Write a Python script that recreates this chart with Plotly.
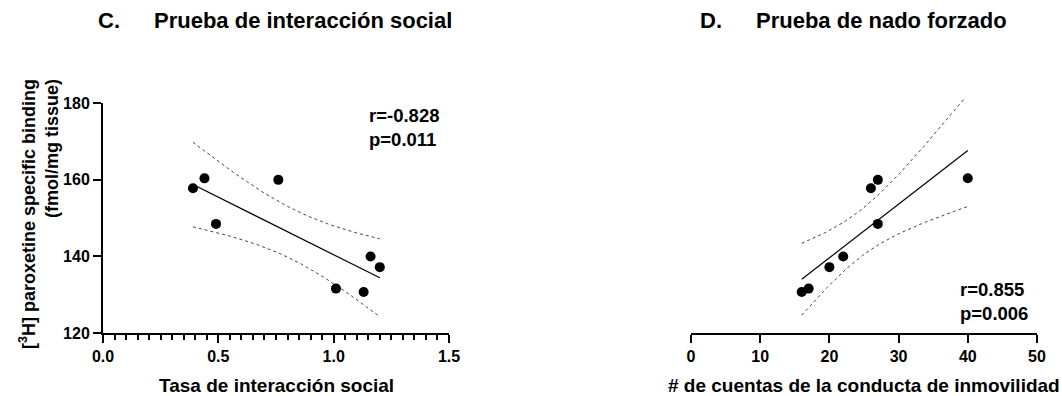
import numpy as np
import plotly.graph_objects as go

# [3H] paroxetine specific binding (fmol/mg tissue), one value per animal
binding = [157.8, 160.4, 148.5, 160.0, 131.6, 130.7, 140.0, 137.2]
# Social interaction rate for the same animals
social_rate = [0.39, 0.44, 0.49, 0.76, 1.01, 1.13, 1.16, 1.20]
# Immobility counts in the forced swim test, same animals
immobility = [26, 40, 27, 27, 17, 16, 22, 20]

# tick positions and their labels
binding_ticks = [120, 140, 160, 180]
binding_labels = ["120", "140", "160", "180"]
rate_ticks = [0.0, 0.5, 1.0, 1.5]
rate_labels = ["0.0", "0.5", "1.0", "1.5"]
count_ticks = [0, 10, 20, 30, 40, 50]
count_labels = ["0", "10", "20", "30", "40", "50"]

stats_c = ["r=-0.828", "p=0.011"]
stats_d = ["r=0.855", "p=0.006"]

T_CRIT_DF6 = 2.447  # two-sided 95 % t value, 6 degrees of freedom

W, H = 1062, 396
FONT = "Liberation Sans, Arial, sans-serif"


def fit_with_band(x, y, n_pts=80):
    x = np.asarray(x, float)
    y = np.asarray(y, float)
    n = len(x)
    slope, intercept = np.polyfit(x, y, 1)
    resid = y - (slope * x + intercept)
    s = np.sqrt(np.sum(resid ** 2) / (n - 2))
    sxx = np.sum((x - x.mean()) ** 2)
    xs = np.linspace(x.min(), x.max(), n_pts)
    ys = slope * xs + intercept
    half = T_CRIT_DF6 * s * np.sqrt(1 / n + (xs - x.mean()) ** 2 / sxx)
    return xs, ys, ys - half, ys + half


def px_x(p):
    return p / W


def px_y(p):
    return 1 - p / H


def bold(labels):
    return ["<b>%s</b>" % t for t in labels]


fig = go.Figure()

panels = [
    (social_rate, "x", "y"),
    (immobility, "x2", "y2"),
]
for xvals, xa, ya in panels:
    xs, ys, lo, hi = fit_with_band(xvals, binding)
    for band in (lo, hi):
        fig.add_trace(go.Scatter(x=xs, y=band, mode="lines", xaxis=xa, yaxis=ya,
                                 line=dict(color="#444444", width=1, dash="dot"),
                                 showlegend=False, hoverinfo="skip"))
    fig.add_trace(go.Scatter(x=xs, y=ys, mode="lines", xaxis=xa, yaxis=ya,
                             line=dict(color="black", width=1.2),
                             showlegend=False, hoverinfo="skip"))
    fig.add_trace(go.Scatter(x=xvals, y=binding, mode="markers", xaxis=xa, yaxis=ya,
                             marker=dict(color="black", size=10),
                             showlegend=False, cliponaxis=False))

tick_font = dict(family=FONT, size=16, color="black")
axis_common = dict(showline=True, linecolor="black", linewidth=2, ticks="outside",
                   ticklen=8, tickwidth=2, tickcolor="black", showgrid=False,
                   zeroline=False, tickfont=tick_font, fixedrange=True,
                   automargin=False, tickmode="array")

y_bottom, y_top = px_y(333), px_y(103.3)
# the right panel keeps the same scale but leaves room for the upper band
y2_top = px_y(103.3 - 3.833 * 1.5)

fig.update_layout(
    width=W, height=H,
    margin=dict(l=0, r=0, t=0, b=0, autoexpand=False),
    paper_bgcolor="white", plot_bgcolor="white",
    xaxis=dict(domain=[px_x(103), px_x(449)], range=[0, 1.5],
               tickvals=rate_ticks, ticktext=bold(rate_labels), anchor="y",
               minor=dict(dtick=0.05, ticks="outside", ticklen=5, tickwidth=1.5,
                          tickcolor="black"),
               **axis_common),
    yaxis=dict(domain=[y_bottom, y_top], range=[120, 180],
               tickvals=binding_ticks, ticktext=bold(binding_labels),
               anchor="x", **axis_common),
    xaxis2=dict(domain=[px_x(691), px_x(1037)], range=[0, 50],
                tickvals=count_ticks, ticktext=bold(count_labels),
                anchor="y2", **axis_common),
    yaxis2=dict(domain=[y_bottom, y2_top], range=[120, 181.5], anchor="x2",
                visible=False, fixedrange=True, automargin=False),
)

ann_font = dict(family=FONT, size=18.5, color="black")
head_font = dict(family=FONT, size=22, color="black")
annotations = [
    # panel headings
    dict(x=px_x(96), y=px_y(21), text="<b>C.</b>", xanchor="left", yanchor="middle",
         font=head_font),
    dict(x=px_x(152), y=px_y(21), text="<b>Prueba de interacción social</b>",
         xanchor="left", yanchor="middle", font=head_font),
    dict(x=px_x(698), y=px_y(21), text="<b>D.</b>", xanchor="left", yanchor="middle",
         font=head_font),
    dict(x=px_x(754), y=px_y(21), text="<b>Prueba de nado forzado</b>",
         xanchor="left", yanchor="middle", font=head_font),
    # axis titles
    dict(x=px_x(276), y=px_y(385), text="<b>Tasa de interacción social</b>",
         xanchor="center", yanchor="middle", font=dict(family=FONT, size=19, color="black")),
    dict(x=px_x(864), y=px_y(385), text="<b># de cuentas de la conducta de inmovilidad</b>",
         xanchor="center", yanchor="middle", font=dict(family=FONT, size=19, color="black")),
    dict(x=px_x(39), y=px_y(214),
         text="<b>[<sup>3</sup>H] paroxetine specific binding<br>(fmol/mg tissue)</b>",
         textangle=-90, xanchor="center", yanchor="middle", align="right",
         font=dict(family=FONT, size=18, color="black")),
    # correlation statistics
    dict(x=px_x(367), y=px_y(127), text="<b>" + "<br>".join(stats_c) + "</b>",
         xanchor="left", yanchor="middle", align="left", font=ann_font),
    dict(x=px_x(958), y=px_y(301), text="<b>" + "<br>".join(stats_d) + "</b>",
         xanchor="left", yanchor="middle", align="left", font=ann_font),
]
for a in annotations:
    a.update(xref="paper", yref="paper", showarrow=False)
fig.update_layout(annotations=annotations)

fig.write_html("out.html")
